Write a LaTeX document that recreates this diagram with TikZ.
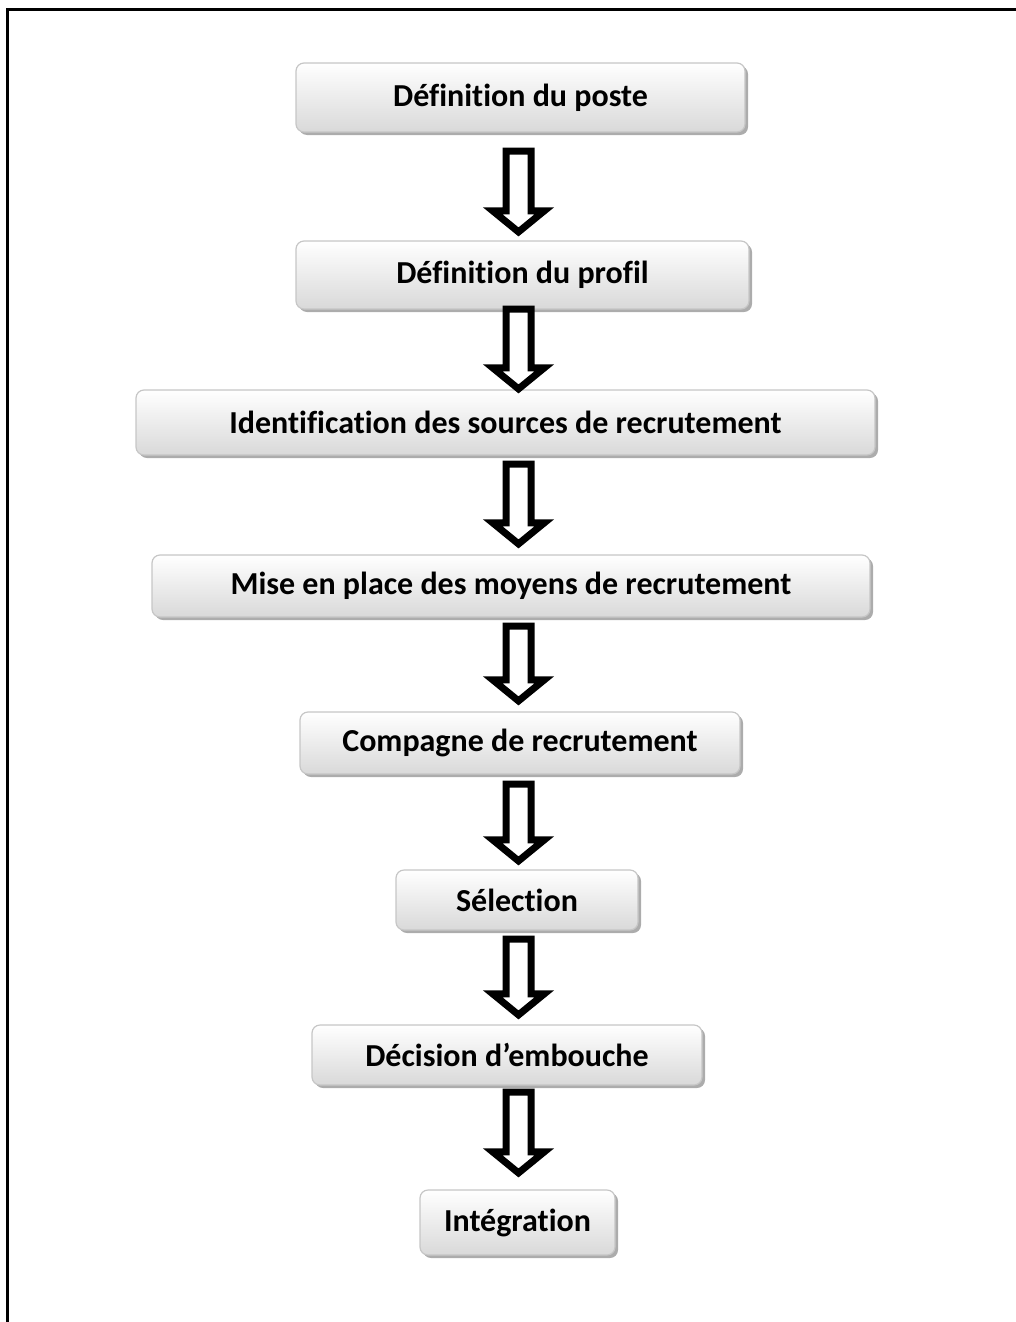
\documentclass[tikz,border=0pt]{standalone}
\usepackage{fontspec}
\setmainfont{Carlito}[Ligatures=NoCommon]
\usetikzlibrary{calc,shadows}
\tikzset{
  stepbox/.style={draw=gray!45, line width=1.2pt, rounded corners=8pt,
    top color=white, bottom color=gray!30, inner sep=0pt,
    font=\bfseries\fontsize{32}{36}\selectfont,
    drop shadow={shadow xshift=3pt, shadow yshift=-3pt, fill=gray!65, opacity=1}},
  blockarrow/.style={draw=black, line width=7pt, fill=white, line join=miter, miter limit=10},
  framebox/.style={draw=black, line width=3pt}
}
% #1 upper node, #2 lower node, #3 gap below #1, #4 tip height above #2
\newcommand\flowarrow[4]{%
  \path[blockarrow] let \p1=(#1.south), \p2=(#2.north) in
    (506pt,\y1-#3) -- (531pt,\y1-#3) -- (531pt,\y2+#4+21pt) -- (544.2pt,\y2+#4+21pt)
    -- (518.5pt,\y2+#4) -- (492.8pt,\y2+#4+21pt) -- (506pt,\y2+#4+21pt) -- cycle;}
\begin{document}
\begin{tikzpicture}[x=1pt,y=-1pt]
\useasboundingbox (0,0) rectangle (1015,1322);
\coordinate (fa) at (7,1340);
\coordinate (fb) at (7,10);
\coordinate (fc) at (1040,10);
\draw[framebox] (fa) -- (fb) -- (fc);

\node[stepbox, minimum width=449pt, minimum height=69pt] (n1) at (520.5,97.5) {Définition du poste};
\node[stepbox, minimum width=453pt, minimum height=68pt] (n2) at (522.5,275) {Définition du profil};
\node[stepbox, minimum width=739pt, minimum height=65pt] (n3) at (505.5,422.5) {Identification des sources de recrutement};
\node[stepbox, minimum width=718pt, minimum height=62pt] (n4) at (511,586) {Mise en place des moyens de recrutement};
\node[stepbox, minimum width=440pt, minimum height=62pt] (n5) at (520,743) {Compagne de recrutement};
\node[stepbox, minimum width=242pt, minimum height=60pt] (n6) at (517,900) {Sélection};
\node[stepbox, minimum width=390pt, minimum height=60pt] (n7) at (507,1055) {Décision d’embouche};
\node[stepbox, minimum width=195pt, minimum height=65pt] (n8) at (517.5,1222.5) {Intégration};

\flowarrow{n1}{n2}{18.5pt}{8.5pt}
\flowarrow{n2}{n3}{-0.5pt}{0.5pt}
\flowarrow{n3}{n4}{8.5pt}{10.5pt}
\flowarrow{n4}{n5}{8.5pt}{10.5pt}
\flowarrow{n5}{n6}{9.5pt}{8.5pt}
\flowarrow{n6}{n7}{8.5pt}{9.5pt}
\flowarrow{n7}{n8}{6.5pt}{16.5pt}
\end{tikzpicture}
\end{document}
